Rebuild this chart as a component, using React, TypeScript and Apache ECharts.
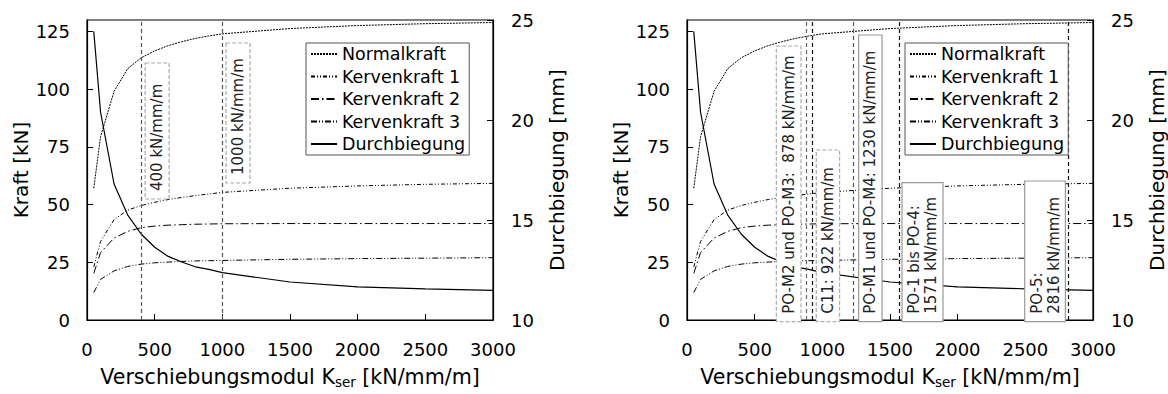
import React, { useEffect, useRef } from 'react';
import * as echarts from 'echarts';

// ---- data ----
const kSer = [50, 100, 200, 300, 400, 500, 600, 700, 800, 900, 1000, 1500, 2000, 2500, 3000];
const normalkraft = [57.1, 79.4, 99.1, 108.9, 113.6, 116.6, 118.9, 120.6, 122, 123.1, 124, 126.3, 127.6, 128.4, 128.9];
const kervenkraft1 = [23, 34, 43.5, 47.6, 49.6, 51, 52.2, 53.1, 53.9, 54.6, 55.3, 57.1, 58.1, 58.8, 59.2];
const kervenkraft2 = [20.2, 29.2, 35.5, 38.4, 40, 40.7, 41.1, 41.3, 41.5, 41.6, 41.7, 41.8, 41.8, 41.8, 41.8];
const kervenkraft3 = [11.9, 17.6, 21.3, 23.2, 24.2, 24.8, 25.1, 25.4, 25.6, 25.7, 25.8, 26.3, 26.6, 26.8, 27];
const durchbiegung = [24.43, 20.4, 16.8, 15.26, 14.3, 13.64, 13.18, 12.9, 12.66, 12.53, 12.37, 11.9, 11.66, 11.56, 11.48];

const seriesNames = ['Normalkraft', 'Kervenkraft 1', 'Kervenkraft 2', 'Kervenkraft 3', 'Durchbiegung'];

const leftRefValues = [400, 1000];
const leftRefLabels = ['400 kN/mm/m', '1000 kN/mm/m'];
const rightRefValues = [878, 922, 1230, 1571, 2816];
const rightRefLabels = [
  'PO-M2 und PO-M3:  878 kN/mm/m',
  'C11: 922 kN/mm/m',
  'PO-M1 und PO-M4: 1230 kN/mm/m',
  'PO-1 bis PO-4:\n1571 kN/mm/m',
  'PO-5:\n2816 kN/mm/m',
];

// ---- layout / styles (not data) ----
const FONT = 'DejaVu Sans';
const leftBoxLayout = [
  { dx: 4, w: 24, top: 63, bottom: 199, dashed: true, line: '#555' },
  { dx: 3.7, w: 24, top: 43, bottom: 183, dashed: true, line: '#555' },
];
const rightBoxLayout = [
  { dx: -29.5, w: 24.7, top: 46, bottom: 321.7, dashed: true, line: '#666' },
  { dx: 4.5, w: 23.3, top: 150, bottom: 321.7, dashed: true, line: '#111' },
  { dx: 5.2, w: 23.4, top: 35, bottom: 321.7, dashed: false, line: '#555' },
  { dx: 2.4, w: 41, top: 182.7, bottom: 321.7, dashed: false, line: '#111' },
  { dx: -43.4, w: 40.7, top: 181, bottom: 321.7, dashed: false, line: '#111' },
];
const lineTypes: any[] = [[2, 1], [4, 2, 1, 2, 1, 2], [8, 3, 1.5, 3], [6, 2, 1, 2, 1, 2], 'solid'];
const seriesData = [normalkraft, kervenkraft1, kervenkraft2, kervenkraft3, durchbiegung];

export default function App() {
  const ref = useRef<HTMLDivElement>(null);
  useEffect(() => {
    if (!ref.current) return;
    const chart = echarts.init(ref.current, null, { renderer: 'svg' });
    const grids = [0, 1].map((i) => ({
      left: i === 0 ? 87 : 687,
      top: 20,
      width: 406,
      height: 308,
      show: true,
      borderColor: '#000',
      borderWidth: 1.2,
      backgroundColor: 'transparent',
    }));
    const axisCommon = {
      axisLine: { show: true, lineStyle: { color: '#000', width: 1.2 } },
      axisTick: { show: true, inside: true, length: 6, lineStyle: { color: '#000', width: 1 } },
      splitLine: { show: false },
    };
    const fmt = (v: number) => String(v);
    const xAxes = [0, 1].map((i) => ({
      type: 'value',
      gridIndex: i,
      min: 0,
      max: 3000,
      interval: 500,
      ...axisCommon,
      axisLabel: { color: '#000', fontSize: 18, margin: 20, fontFamily: FONT, formatter: fmt },
      name: '{a|Verschiebungsmodul K}{s|ser}{a| [kN/mm/m]}',
      nameLocation: 'middle',
      nameGap: 45,
      nameTextStyle: {
        rich: {
          a: { fontSize: 20.6, fontFamily: FONT, color: '#000' },
          s: { fontSize: 13.5, fontFamily: FONT, color: '#000', padding: [10, 0, 0, 0] },
        },
      },
    }));
    const yAxes: any[] = [];
    [0, 1].forEach((i) => {
      yAxes.push({
        type: 'value',
        gridIndex: i,
        position: 'left',
        min: 0,
        max: 130,
        interval: 25,
        ...axisCommon,
        axisLabel: { color: '#000', fontSize: 18, margin: 17, fontFamily: FONT, showMaxLabel: false, formatter: fmt },
        name: 'Kraft [kN]',
        nameLocation: 'middle',
        nameGap: 56,
        nameTextStyle: { fontSize: 20, fontFamily: FONT, color: '#000' },
      });
      yAxes.push({
        type: 'value',
        gridIndex: i,
        position: 'right',
        min: 10,
        max: 25,
        interval: 5,
        ...axisCommon,
        axisLabel: { color: '#000', fontSize: 18, margin: 18, fontFamily: FONT, formatter: fmt },
        name: 'Durchbiegung [mm]',
        nameLocation: 'middle',
        nameGap: 54,
        nameTextStyle: { fontSize: 20, fontFamily: FONT, color: '#000' },
      });
    });

    const series: any[] = [];
    [0, 1].forEach((gi) => {
      seriesNames.forEach((name, si) => {
        const s: any = {
          type: 'line',
          name,
          xAxisIndex: gi,
          yAxisIndex: gi * 2 + (si === 4 ? 1 : 0),
          data: kSer.map((k, j) => [k, seriesData[si][j]]),
          symbol: 'none',
          showSymbol: false,
          lineStyle: { color: '#000', width: si === 4 ? 1.2 : 1, type: lineTypes[si] },
          itemStyle: { color: '#000' },
          z: 3,
        };
        if (si === 0) {
          const vals = gi === 0 ? leftRefValues : rightRefValues;
          const lay = gi === 0 ? leftBoxLayout : rightBoxLayout;
          s.markLine = {
            silent: true,
            symbol: ['none', 'none'],
            label: { show: false },
            data: vals.map((v, j) => ({
              xAxis: v,
              lineStyle: { color: lay[j].line, width: 1.2, type: [4, 3] },
            })),
          };
        }
        series.push(s);
      });
    });

    const legendCommon = {
      orient: 'vertical',
      top: 43,
      itemWidth: 26,
      itemHeight: 14,
      itemGap: 2.5,
      padding: [1, 4, 1, 4],
      borderColor: '#555',
      borderWidth: 1,
      borderRadius: 0,
      backgroundColor: '#fff',
      selectedMode: false,
      data: seriesNames,
      itemStyle: { opacity: 0 },
      textStyle: { fontSize: 17.5, fontFamily: FONT, color: '#000', lineHeight: 20 },
      z: 10,
    };

    chart.setOption({
      animation: false,
      backgroundColor: '#fff',
      textStyle: { fontFamily: FONT },
      grid: grids,
      xAxis: xAxes,
      yAxis: yAxes,
      legend: [
        { ...legendCommon, left: 306 },
        { ...legendCommon, left: 905 },
      ],
      series,
    });

    const graphics: any[] = [];
    const addBoxes = (gi: number, vals: number[], labels: string[], lay: any[]) => {
      vals.forEach((v, j) => {
        const px = chart.convertToPixel({ xAxisIndex: gi } as any, v) as number;
        const L = lay[j];
        const x0 = px + L.dx;
        graphics.push({
          type: 'rect',
          z: 50,
          shape: { x: x0, y: L.top, width: L.w, height: L.bottom - L.top },
          style: {
            fill: '#fff',
            stroke: L.dashed ? '#aaa' : '#999',
            lineWidth: 1.2,
            lineDash: L.dashed ? [4, 2] : null,
          },
        });
        graphics.push({
          type: 'text',
          z: 51,
          x: x0 + L.w / 2,
          y: L.bottom - 8,
          rotation: Math.PI / 2,
          style: {
            text: labels[j],
            fill: '#222',
            fontSize: 15,
            fontFamily: FONT,
            align: 'left',
            verticalAlign: 'middle',
            lineHeight: 17,
          },
        });
      });
    };
    addBoxes(0, leftRefValues, leftRefLabels, leftBoxLayout);
    addBoxes(1, rightRefValues, rightRefLabels, rightBoxLayout);
    chart.setOption({ graphic: graphics });

    return () => chart.dispose();
  }, []);
  return (
    <div
      ref={ref}
      style={{ position: 'fixed', left: 0, top: 0, width: 1168, height: 394, background: '#fff' }}
    />
  );
}
